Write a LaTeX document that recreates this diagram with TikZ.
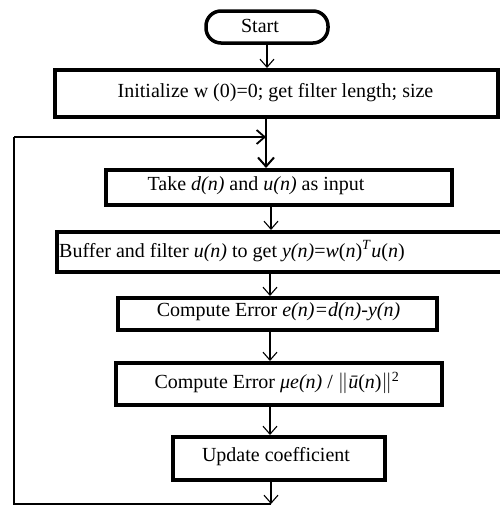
\documentclass[tikz,border=0pt]{standalone}
\usepackage{fontspec}
\setmainfont{Liberation Serif}
\usetikzlibrary{arrows.meta}
\tikzset{
  box/.style={draw, line width=4pt, rectangle, inner sep=0pt},
  term/.style={draw, line width=3.5pt, rectangle, rounded corners=15pt, inner sep=0pt},
  txt/.style={inner sep=0pt, font=\fontsize{20}{24}\selectfont},
  conn/.style={line width=1.1pt, -{Straight Barb[length=8pt,width=14pt,line width=1.1pt]}},
  thickconn/.style={line width=2pt, -{Straight Barb[length=9pt,width=16pt,line width=2pt]}},
  loopline/.style={line width=1.8pt},
}
\begin{document}
\begin{tikzpicture}[x=1pt,y=-1pt]
\useasboundingbox (0,0) rectangle (500,506);
% start
\node[term, minimum width=122pt, minimum height=32pt] (start) at (267,27) {};
\node[txt] (startT) at (260,26) {Start};
% init
\node[box, minimum width=443pt, minimum height=47pt] (init) at (276.5,93.5) {};
\node[txt] (initT) at (275.5,93) {Initialize w (0)=0; get filter length; size};
% take
\node[box, minimum width=346pt, minimum height=35pt] (take) at (279,187.5) {};
\node[txt] (takeT) at (256,186) {Take \textit{d(n)} and \textit{u(n)} as input};
% buffer
\node[box, minimum width=503pt, minimum height=40pt] (buf) at (308.5,252) {};
\node[txt, anchor=west] (bufT) at (59,251) {Buffer and filter \textit{u(n)} to get \textit{y(n)}=\textit{w}(\textit{n})\textsuperscript{\textit{T}}\textit{u}(\textit{n})};
% error
\node[box, minimum width=319pt, minimum height=32pt] (err) at (277.5,314) {};
\node[txt] (errT) at (278.5,312) {Compute Error \textit{e(n)=d(n)-y(n)}};
% mu
\node[box, minimum width=326pt, minimum height=42pt] (mu) at (279,384) {};
\node[txt] (muT) at (277,383) {Compute Error \textit{μe(n)} / $\Vert$\textit{ū}(\textit{n})$\Vert$\textsuperscript{2}};
% update
\node[box, minimum width=212pt, minimum height=43pt] (upd) at (279,458.5) {};
\node[txt] (updT) at (276,457) {Update coefficient};
% connectors
\coordinate (merge) at (266,137);
\coordinate (bot) at (271,504);
\coordinate (left) at (14,504);
\coordinate (lefttop) at (14,137);
\draw[conn] (start.south) -- (start.south |- init.north);
\draw[thickconn] (init.south -| merge) -- (take.north -| merge);
\draw[conn] (take.south -| 271,0) -- (buf.north -| 271,0);
\draw[conn] (buf.south -| 270,0) -- (err.north -| 270,0);
\draw[conn] (err.south -| 270,0) -- (mu.north -| 270,0);
\draw[conn] (mu.south -| 270,0) -- (upd.north -| 270,0);
\draw[conn] (upd.south -| bot) -- (bot);
\draw[loopline] (bot) -- (left) -- (lefttop);
\draw[loopline, -{Straight Barb[length=8pt,width=14pt,line width=1.8pt]}] (lefttop) -- (merge);
\end{tikzpicture}
\end{document}
